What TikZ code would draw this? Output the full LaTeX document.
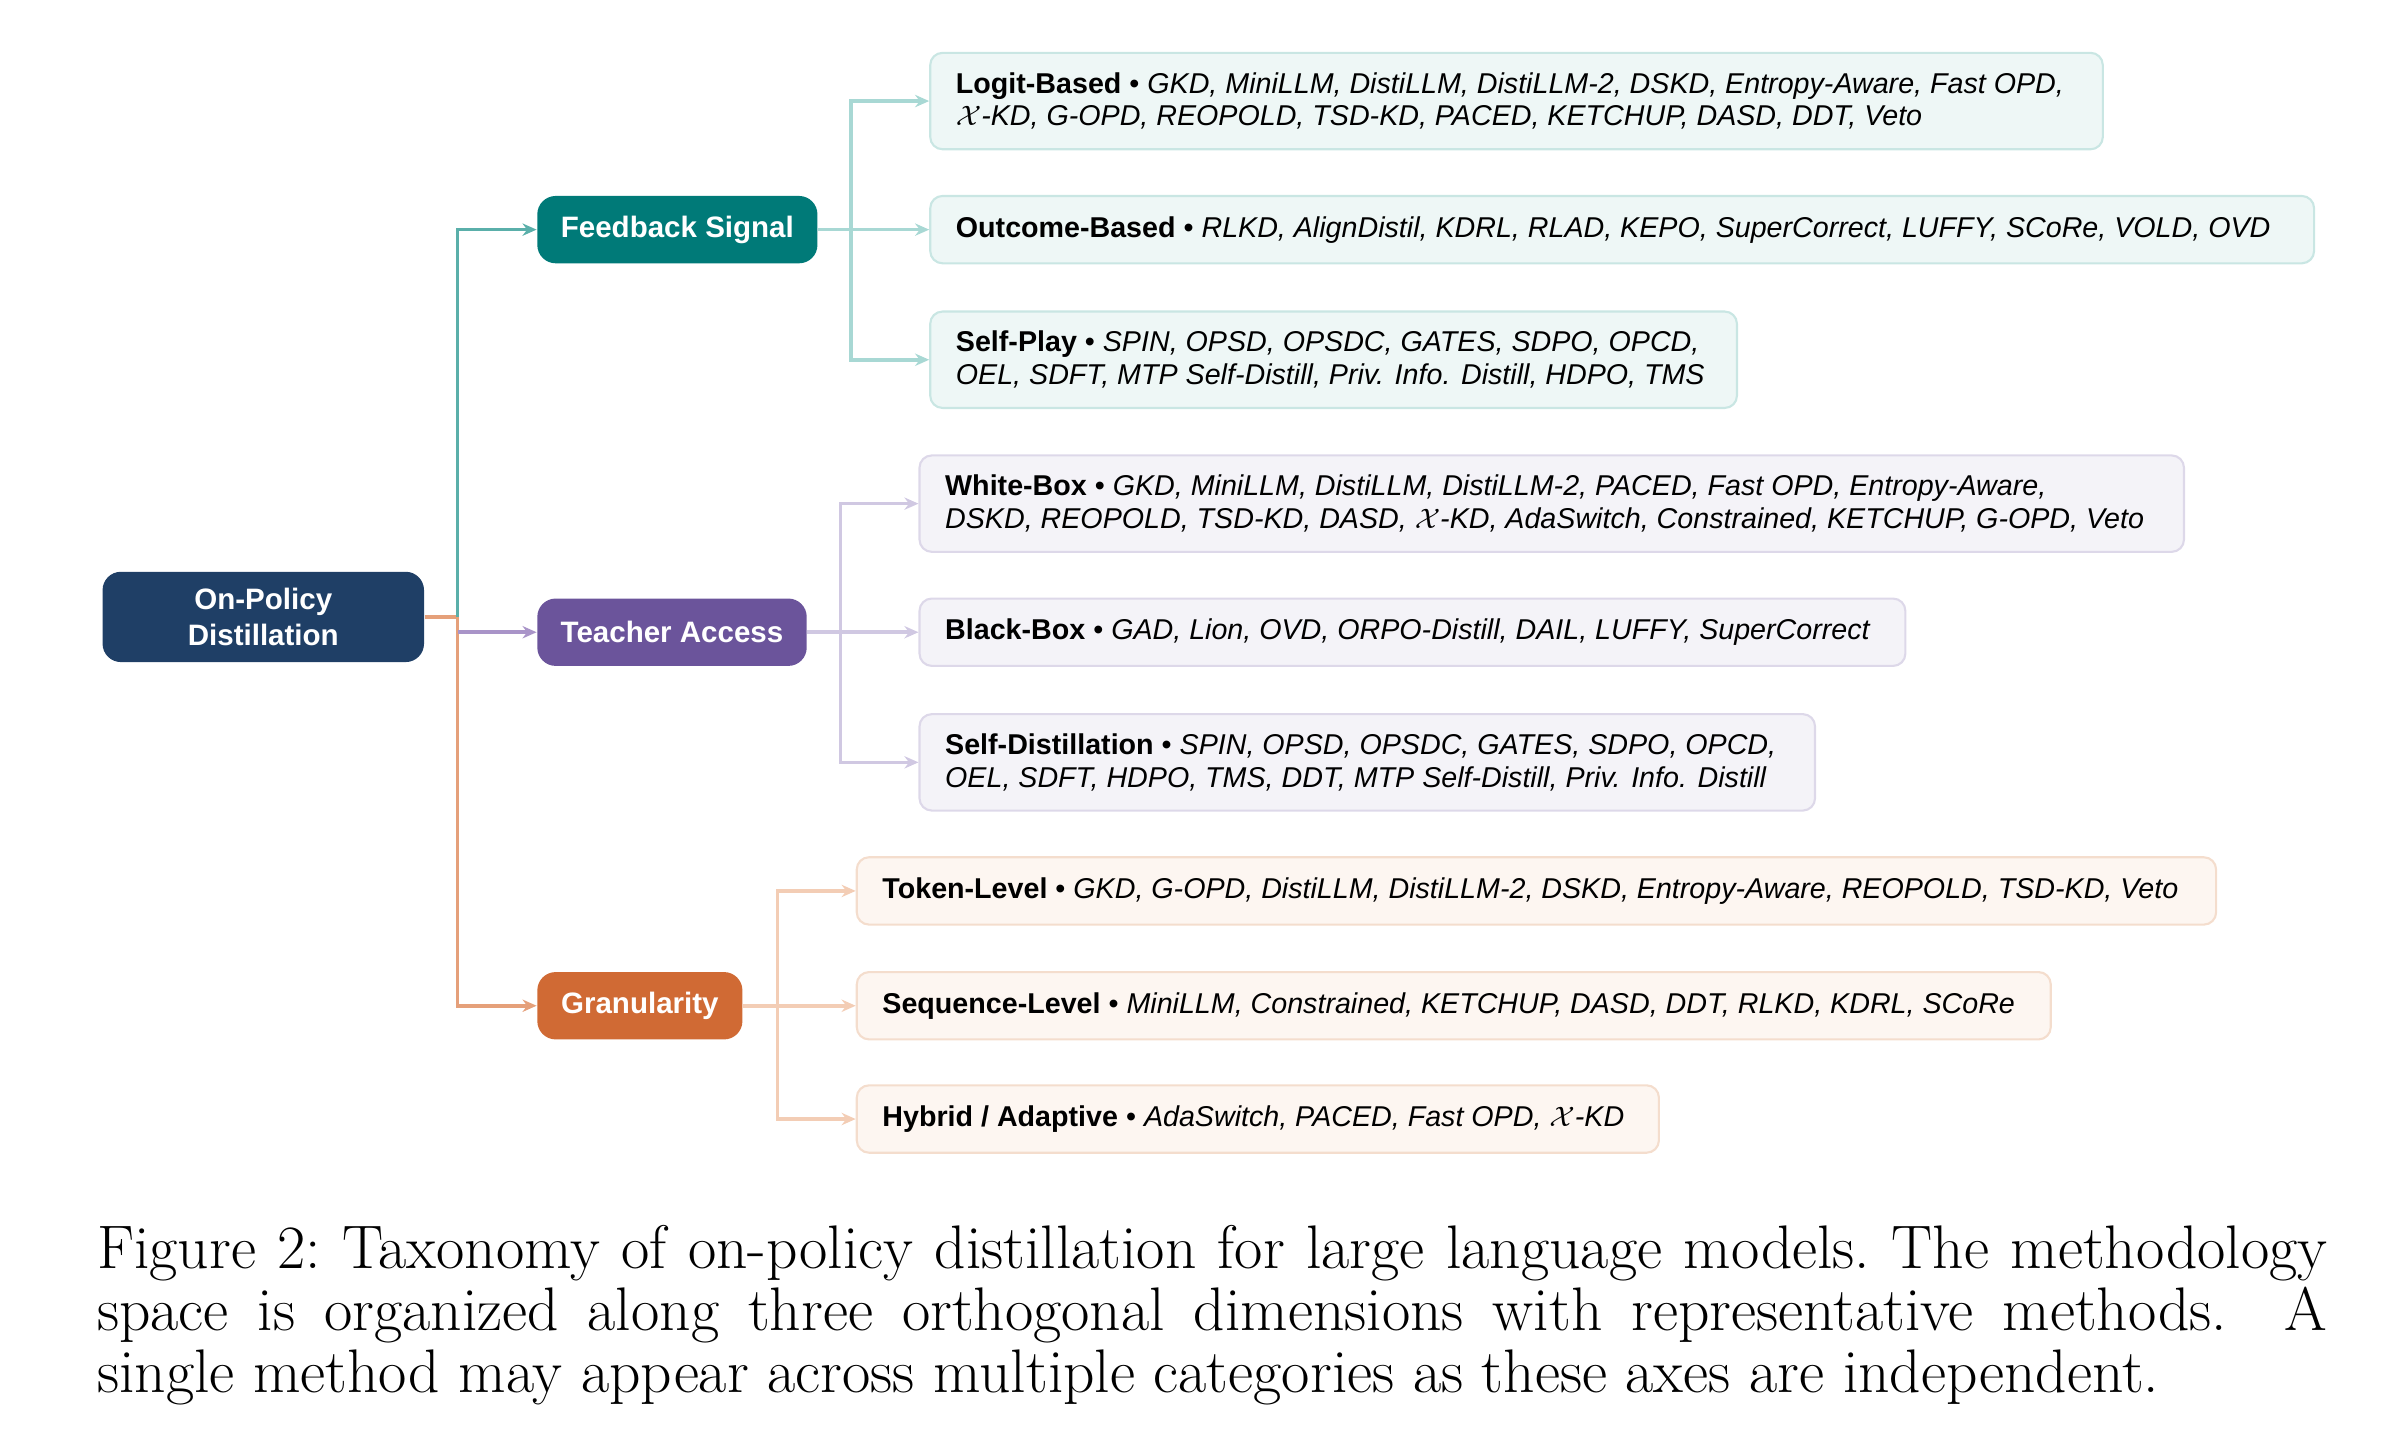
\documentclass[tikz,border=0pt]{standalone}
\usepackage{fontspec}
\setsansfont{Liberation Sans}
\usetikzlibrary{arrows.meta}
\def\pxu{0.01531cm}
\definecolor{cteal}{HTML}{007A78}
\definecolor{cpurp}{HTML}{6B549B}
\definecolor{corg}{HTML}{D06A34}
\definecolor{cnavy}{HTML}{1F3F66}
\definecolor{tfill}{HTML}{EEF7F6}\definecolor{tline}{HTML}{C9E6E3}
\definecolor{pfill}{HTML}{F4F3F8}\definecolor{pline}{HTML}{DDD8E9}
\definecolor{ofill}{HTML}{FDF6F1}\definecolor{oline}{HTML}{F4DDCD}
\definecolor{ttrunk}{HTML}{5AAFAA}\definecolor{ptrunk}{HTML}{A994C8}\definecolor{otrunk}{HTML}{E5A07A}
\definecolor{tbr}{HTML}{A8D8D4}\definecolor{pbr}{HTML}{D0C8E2}\definecolor{obr}{HTML}{F3CDB5}
\newcommand\bfont{\sffamily\fontsize{8.15}{9.3}\selectfont}
\newcommand\leaf[7]{%
  \node[#6, anchor=west, minimum width={(#3-#2)*\pxu}, minimum height={#5*\pxu}] (#1) at (#2-3,#4) {};
  \node[anchor=west, align=left, inner sep=0pt, font=\bfont] at ([xshift=17*\pxu]#1.west) {#7};}
\begin{document}
\begin{tikzpicture}[x=\pxu,y=-\pxu,
  mainbox/.style={rounded corners=12*\pxu, text=white, font=\sffamily\bfseries\fontsize{8.4}{10.2}\selectfont, align=center, inner sep=0pt},
  tleaf/.style={draw=tline, fill=tfill, rounded corners=8*\pxu, line width=0.6pt},
  pleaf/.style={draw=pline, fill=pfill, rounded corners=8*\pxu, line width=0.6pt},
  oleaf/.style={draw=oline, fill=ofill, rounded corners=8*\pxu, line width=0.6pt},
  con/.style={line width=1pt, -{Stealth[length=4pt,width=3.5pt]}},
  lin/.style={line width=1pt}]
\useasboundingbox (0,0) rectangle (1560,942);
% main nodes
\node[mainbox, fill=cnavy, minimum width=210*\pxu, minimum height=59*\pxu] (root) at (172,403) {On-Policy\\Distillation};
\node[mainbox, fill=cteal, minimum width=183*\pxu, minimum height=44*\pxu] (fb) at (442.5,150) {Feedback Signal};
\node[mainbox, fill=cpurp, minimum width=176*\pxu, minimum height=44*\pxu] (ta) at (439,413) {Teacher Access};
\node[mainbox, fill=corg, minimum width=134*\pxu, minimum height=44*\pxu] (gr) at (418,657) {Granularity};
% leaves
\leaf{lb}{610}{1376}{66}{63}{tleaf}{\textbf{Logit-Based} • \textit{GKD, MiniLLM, DistiLLM, DistiLLM-2, DSKD, Entropy-Aware, Fast OPD,}\\\textit{$\mathcal{X}$-KD, G-OPD, REOPOLD, TSD-KD, PACED, KETCHUP, DASD, DDT, Veto}}
\leaf{ob}{610}{1514}{150}{44}{tleaf}{\textbf{Outcome-Based} • \textit{RLKD, AlignDistil, KDRL, RLAD, KEPO, SuperCorrect, LUFFY, SCoRe, VOLD, OVD}}
\leaf{sp}{610}{1137}{235}{63}{tleaf}{\textbf{Self-Play} • \textit{SPIN, OPSD, OPSDC, GATES, SDPO, OPCD,}\\\textit{OEL, SDFT, MTP Self-Distill, Priv. Info. Distill, HDPO, TMS}}
\leaf{wb}{603}{1429}{329}{63}{pleaf}{\textbf{White-Box} • \textit{GKD, MiniLLM, DistiLLM, DistiLLM-2, PACED, Fast OPD, Entropy-Aware,}\\\textit{DSKD, REOPOLD, TSD-KD, DASD, $\mathcal{X}$-KD, AdaSwitch, Constrained, KETCHUP, G-OPD, Veto}}
\leaf{bb}{603}{1247}{413}{44}{pleaf}{\textbf{Black-Box} • \textit{GAD, Lion, OVD, ORPO-Distill, DAIL, LUFFY, SuperCorrect}}
\leaf{sd}{603}{1188}{498}{63}{pleaf}{\textbf{Self-Distillation} • \textit{SPIN, OPSD, OPSDC, GATES, SDPO, OPCD,}\\\textit{OEL, SDFT, HDPO, TMS, DDT, MTP Self-Distill, Priv. Info. Distill}}
\leaf{tl}{562}{1450}{582}{44}{oleaf}{\textbf{Token-Level} • \textit{GKD, G-OPD, DistiLLM, DistiLLM-2, DSKD, Entropy-Aware, REOPOLD, TSD-KD, Veto}}
\leaf{sl}{562}{1342}{657}{44}{oleaf}{\textbf{Sequence-Level} • \textit{MiniLLM, Constrained, KETCHUP, DASD, DDT, RLKD, KDRL, SCoRe}}
\leaf{hy}{562}{1086}{731}{44}{oleaf}{\textbf{Hybrid / Adaptive} • \textit{AdaSwitch, PACED, Fast OPD, $\mathcal{X}$-KD}}
% trunk connectors
\coordinate (tj) at (299,403);
\draw[lin, otrunk] (root.east) -- (tj);
\draw[con, otrunk] (tj) |- (gr.west);
\draw[con, ttrunk] (tj) |- (fb.west);
\draw[con, ptrunk] (tj |- ta.west) -- (ta.west);
% branches
\coordinate (bf) at (556,150);
\draw[lin, tbr] (fb.east) -- (bf);
\draw[con, tbr] (bf) |- (lb.west);
\draw[con, tbr] (bf) -- (ob.west);
\draw[con, tbr] (bf) |- (sp.west);
\coordinate (bt) at (549,413);
\draw[lin, pbr] (ta.east) -- (bt);
\draw[con, pbr] (bt) |- (wb.west);
\draw[con, pbr] (bt) -- (bb.west);
\draw[con, pbr] (bt) |- (sd.west);
\coordinate (bg) at (508,657);
\draw[lin, obr] (gr.east) -- (bg);
\draw[con, obr] (bg) |- (tl.west);
\draw[con, obr] (bg) -- (sl.west);
\draw[con, obr] (bg) |- (hy.west);
% caption
\node[anchor=north west, inner sep=0pt, text width=1457*\pxu, align=justify, font=\frenchspacing\fontsize{17.5}{17.6}\selectfont] (cap) at (63,800)
{Figure 2: Taxonomy of on-policy distillation for large language models. The methodology\linebreak space is organized along three orthogonal dimensions with representative methods.\ \ A\linebreak single method may appear across multiple categories as these axes are independent.};
\end{tikzpicture}
\end{document}
